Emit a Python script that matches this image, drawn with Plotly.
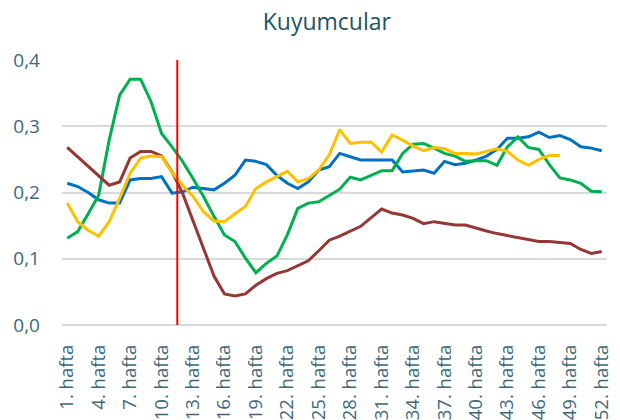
import plotly.graph_objects as go

weeks = list(range(1, 53))
week_labels = [f"{w}. hafta" for w in weeks]
tick_weeks = list(range(1, 53, 3))
tick_labels = [f"{w}. hafta" for w in tick_weeks]

blue = [0.214, 0.209, 0.200, 0.189, 0.184, 0.184, 0.219, 0.221, 0.221, 0.224,
        0.199, 0.201, 0.208, 0.206, 0.204, 0.214, 0.226, 0.249, 0.247, 0.242,
        0.226, 0.214, 0.206, 0.216, 0.234, 0.239, 0.259, 0.254, 0.249, 0.249,
        0.249, 0.249, 0.231, 0.232, 0.234, 0.229, 0.247, 0.242, 0.244, 0.249,
        0.255, 0.265, 0.282, 0.282, 0.284, 0.291, 0.283, 0.286, 0.280, 0.269,
        0.267, 0.263]
green = [0.131, 0.141, 0.168, 0.196, 0.279, 0.347, 0.371, 0.371, 0.337, 0.289,
         0.269, 0.247, 0.221, 0.194, 0.164, 0.136, 0.126, 0.101, 0.079, 0.093,
         0.104, 0.136, 0.176, 0.184, 0.186, 0.195, 0.205, 0.223, 0.219, 0.226,
         0.233, 0.233, 0.259, 0.273, 0.274, 0.267, 0.259, 0.255, 0.247, 0.248,
         0.248, 0.241, 0.269, 0.284, 0.268, 0.265, 0.242, 0.222, 0.219, 0.214,
         0.202, 0.201]
darkred = [0.268, 0.254, 0.240, 0.226, 0.211, 0.216, 0.252, 0.262, 0.262, 0.255,
           0.231, 0.199, 0.158, 0.114, 0.074, 0.047, 0.044, 0.047, 0.060, 0.070,
           0.078, 0.082, 0.089, 0.097, 0.112, 0.128, 0.134, 0.142, 0.149, 0.162,
           0.175, 0.169, 0.166, 0.161, 0.153, 0.156, 0.153, 0.151, 0.151, 0.146,
           0.142, 0.138, 0.135, 0.132, 0.128, 0.126, 0.126, 0.124, 0.123, 0.114,
           0.108, 0.111]
yellow = [0.184, 0.156, 0.143, 0.134, 0.156, 0.191, 0.229, 0.252, 0.255, 0.254,
          0.230, 0.211, 0.194, 0.171, 0.157, 0.156, 0.168, 0.179, 0.206, 0.216,
          0.224, 0.232, 0.216, 0.221, 0.234, 0.257, 0.295, 0.274, 0.276, 0.276,
          0.261, 0.287, 0.279, 0.270, 0.263, 0.268, 0.266, 0.259, 0.259, 0.258,
          0.262, 0.266, 0.262, 0.249, 0.241, 0.250, 0.256, 0.256]

marker_week = 11.5
y_max = 0.4

series = [
    ("Seri 1", blue, "#0070C0"),
    ("Seri 2", green, "#00B050"),
    ("Seri 3", darkred, "#953735"),
    ("Seri 4", yellow, "#FFC000"),
]

fig = go.Figure()
for name, vals, color in series:
    fig.add_trace(go.Scatter(
        x=weeks[:len(vals)], y=vals, mode="lines", name=name,
        line=dict(color=color, width=3),
        hovertext=week_labels[:len(vals)],
    ))

fig.add_shape(type="line", xref="x", yref="y",
              x0=marker_week, x1=marker_week, y0=0, y1=y_max,
              line=dict(color="#FF0000", width=2))

tick_color = "#3E6878"
fig.update_layout(
    width=612, height=412,
    margin=dict(l=54, r=13, t=52, b=95),
    paper_bgcolor="white", plot_bgcolor="white",
    showlegend=False,
    separators=",.",
    font=dict(family="Open Sans", color=tick_color),
    title=dict(text="Kuyumcular", x=0.521, xanchor="center", y=0.966, yanchor="middle",
               font=dict(family="Open Sans", size=23, color="#1F5364", weight=500)),
)
fig.update_xaxes(
    range=[0.5, 52.5], tickmode="array", tickvals=tick_weeks, ticktext=tick_labels,
    tickangle=-90, showgrid=False, zeroline=False, showline=False, automargin=False,
    tickfont=dict(size=18.5, color=tick_color), ticklabelstandoff=15,
)
fig.update_yaxes(
    range=[0, y_max], dtick=0.1, tickformat=".1f", automargin=False,
    showgrid=True, gridcolor="#D9D9D9", gridwidth=1.5,
    zeroline=True, zerolinecolor="#D9D9D9", zerolinewidth=1.5,
    showline=False, tickfont=dict(size=19, color=tick_color), ticklabelstandoff=21,
)

fig.write_html("out.html")
